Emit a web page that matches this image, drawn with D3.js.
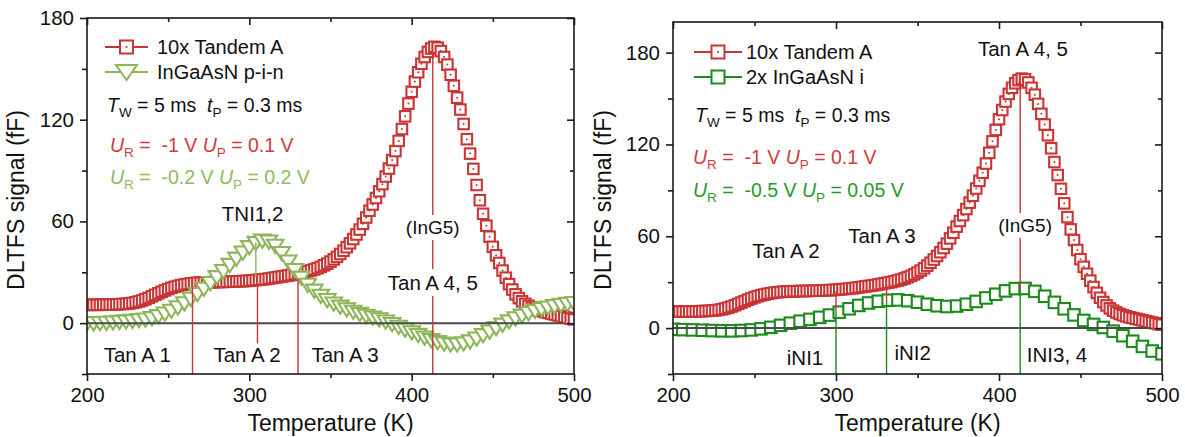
<!DOCTYPE html>
<html><head><meta charset="utf-8">
<script src="https://cdn.jsdelivr.net/npm/d3@7"></script>
<style>
body{margin:0;background:#fff}
svg{display:block}
text{font-family:"Liberation Sans",Arial,Helvetica,sans-serif;white-space:pre}
</style>
</head><body>
<svg id="c" width="1185" height="437"></svg>
<script>
// ---------------- DATA ----------------
const xTickLabels = [200, 300, 400, 500];
const xMinorTicks = [250, 350, 450];
const yTickLabels = [0, 60, 120, 180];
const yMinorTicks = [-30, 30, 90, 150];

// 10x Tandem A (both panels), 2 K steps
const tempTandem = [
 200,202,204,206,208,210,212,214,216,218,
 220,222,224,226,228,230,232,234,236,238,
 240,242,244,246,248,250,252,254,256,258,
 260,262,264,266,268,270,272,274,276,278,
 280,282,284,286,288,290,292,294,296,298,
 300,302,304,306,308,310,312,314,316,318,
 320,322,324,326,328,330,332,334,336,338,
 340,342,344,346,348,350,352,354,356,358,
 360,362,364,366,368,370,372,374,376,378,
 380,382,384,386,388,390,392,394,396,398,
 400,402,404,406,408,410,412,414,416,418,
 420,422,424,426,428,430,432,434,436,438,
 440,442,444,446,448,450,452,454,456,458,
 460,462,464,466,468,470,472,474,476,478,
 480,482,484,486,488,490,492,494,496,498,
 500];
const tandemA = [
 10.8,10.8,10.8,10.8,10.8,10.9,10.9,11.0,11.0,11.1,
 11.2,11.3,11.4,11.6,11.9,12.3,12.8,13.4,14.1,14.9,
 15.8,16.7,17.6,18.5,19.3,20.1,20.8,21.4,21.9,22.4,
 22.8,23.1,23.4,23.6,23.8,23.9,24.0,24.1,24.1,24.2,
 24.2,24.3,24.3,24.4,24.5,24.5,24.6,24.7,24.8,24.9,
 25.0,25.2,25.4,25.6,25.8,26.0,26.3,26.6,26.9,27.2,
 27.5,27.8,28.1,28.5,28.9,29.3,29.7,30.1,30.6,31.1,
 31.7,32.4,33.2,34.1,35.1,36.3,37.6,39.1,40.8,42.7,
 44.8,47.1,49.6,52.3,55.2,58.6,62.3,66.3,70.0,73.8,
 77.8,82.0,86.5,91.2,96.2,101.5,107.5,114.5,122.0,129.5,
 136.5,142.5,148.0,153.0,157.0,160.0,162.0,163.0,162.5,160.5,
 157.0,152.5,146.5,140.0,133.0,126.0,117.5,108.5,100.0,91.0,
 81.5,72.5,64.5,57.5,51.0,45.0,40.0,35.5,31.0,26.8,
 23.0,19.8,17.0,14.8,12.9,11.4,10.2,9.2,8.4,7.7,
 7.1,6.6,6.1,5.6,5.1,4.6,4.1,3.6,3.1,2.6,
 2.2];

// InGaAsN p-i-n (left panel), 4 K steps
const tempPin = [
 200,204,208,212,216,220,224,228,232,236,
 240,244,248,252,256,260,264,268,272,276,
 280,284,288,292,296,300,304,308,312,316,
 320,324,328,332,336,340,344,348,352,356,
 360,364,368,372,376,380,384,388,392,396,
 400,404,408,412,416,420,424,428,432,436,
 440,444,448,452,456,460,464,468,472,476,
 480,484,488,492,496,500];
const ingaasnPin = [
 -0.5,-0.4,-0.3,-0.1,0.1,0.4,0.7,1.0,1.4,1.8,
 2.6,3.8,5.3,7.0,9.0,11.4,14.0,16.8,20.0,23.3,
 26.8,30.4,34.0,37.7,41.3,44.5,47.0,48.3,47.8,45.3,
 41.0,36.0,31.0,26.5,22.3,18.8,15.8,13.3,11.2,9.4,
 7.8,6.4,5.1,4.0,3.0,1.9,0.6,-0.9,-2.5,-4.1,
 -5.7,-7.3,-8.9,-10.3,-11.5,-12.4,-12.9,-12.9,-12.3,-11.1,
 -9.4,-7.4,-5.3,-3.2,-1.2,0.7,2.5,4.1,5.6,6.9,
 8.0,8.9,9.7,10.4,11.0,11.5];

// 2x InGaAsN i (right panel), 6 K steps
const tempI = [
 200,206,212,218,224,230,236,242,248,254,
 260,266,272,278,284,290,296,302,308,314,
 320,326,332,338,344,350,356,362,368,374,
 380,386,392,398,404,410,416,422,428,434,
 440,446,452,458,464,470,476,482,488,494,
 500];
const ingaasnI = [
 -0.8,-1.0,-1.2,-1.4,-1.6,-1.8,-1.8,-1.6,-1.2,-0.5,
 0.5,1.8,3.2,4.5,5.7,7.0,8.5,10.4,12.6,14.8,
 16.4,17.5,18.2,18.4,17.9,16.9,15.6,14.6,14.1,14.4,
 15.6,17.4,19.7,22.1,24.3,25.8,25.9,24.0,20.8,16.8,
 12.6,8.6,5.0,2.4,0.4,-2.0,-5.0,-8.6,-12.0,-15.0,
 -16.8];

// zero reference line span (K)
const zeroLineSpan = [200, 493];

// annotation lines: temperature, from value, to value, series colour key
const leftMarkerLines = [
 {T: 265, v0: -30, v1: 24, c: "red"},
 {T: 304, v0: 27, v1: 47.5, c: "lgreen"},
 {T: 305, v0: -12, v1: 25, c: "red"},
 {T: 330, v0: -30, v1: 26, c: "red"},
 {T: 413, v0: -30, v1: 160, c: "red"}
];
const rightMarkerLines = [
 {T: 300, v0: 11, v1: 24, c: "red"},
 {T: 300, v0: -30, v1: 11, c: "dgreen"},
 {T: 331, v0: 18.5, v1: 28, c: "red"},
 {T: 331, v0: -30, v1: 18.5, c: "dgreen"},
 {T: 413, v0: 26, v1: 161, c: "red"},
 {T: 413, v0: -30, v1: 26, c: "dgreen"}
];
const leftLabels = ["Tan A 1", "Tan A 2", "Tan A 3", "Tan A 4, 5", "(InG5)", "TNI1,2"];
const rightLabels = ["Tan A 4, 5", "Tan A 2", "Tan A 3", "(InG5)", "iNI1", "iNI2", "INI3, 4"];

// ---------------- STYLE / LAYOUT ----------------
const C = {red: "#c83535", redText: "#d03c3c", lgreen: "#8db55a", lgreenText: "#8fba5e",
           dgreen: "#1c8a1c", dgreenText: "#27992a", axis: "#1a1a1a", zero: "#4a4a4a"};
const svg = d3.select("#c");
const tickFont = 20.5, titleFont = 23, annFont = 20.5;

function drawPanel(p) {
  const x = d3.scaleLinear().domain([200, 500]).range([p.x0, p.x1]);
  const y = d3.scaleLinear().domain(p.ydom).range([p.ybot, p.ytop]);
  const g = svg.append("g");
  const clipId = "clip" + p.id;
  svg.append("clipPath").attr("id", clipId).append("rect")
    .attr("x", p.x0).attr("y", p.ytop).attr("width", p.x1 - p.x0).attr("height", p.ybot - p.ytop);
  const plot = g.append("g").attr("clip-path", `url(#${clipId})`);

  p.series.forEach(s => {
    const pts = s.T.map((t, i) => [t, s.V[i]]);
    const sg = plot.append("g");
    if (s.shape === "sq") {
      const h = s.size / 2;
      const m = sg.selectAll("g").data(pts).join("g")
        .attr("transform", d => `translate(${x(d[0])},${y(d[1])})`);
      m.append("rect").attr("x", -h).attr("y", -h).attr("width", s.size).attr("height", s.size)
        .attr("fill", "#fff").attr("stroke", s.color).attr("stroke-width", 2.1);
      if (s.dot) m.append("circle").attr("r", 1).attr("fill", s.color);
    } else {
      const w = s.size / 2, hh = s.size * 0.4;
      sg.selectAll("path").data(pts).join("path")
        .attr("transform", d => `translate(${x(d[0])},${y(d[1])})`)
        .attr("d", `M${-w},${-hh}L${w},${-hh}L0,${hh}Z`)
        .attr("fill", "#fff").attr("stroke", s.color).attr("stroke-width", 2.1).attr("stroke-linejoin", "miter");
    }
  });

  // zero line
  g.append("line").attr("x1", x(zeroLineSpan[0])).attr("x2", x(zeroLineSpan[1]))
    .attr("y1", y(0)).attr("y2", y(0)).attr("stroke", C.zero).attr("stroke-width", 2);

  // annotation lines
  p.lines.forEach(l => {
    g.append("line").attr("x1", x(l.T)).attr("x2", x(l.T)).attr("y1", y(l.v0)).attr("y2", y(l.v1))
      .attr("stroke", C[l.c]).attr("stroke-width", 1.4);
  });

  // annotation labels
  p.labels.forEach((txt, i) => {
    const pos = p.labelPos[i];
    const t = g.append("text").attr("x", x(pos[0])).attr("y", y(pos[1]))
      .attr("text-anchor", pos[2] || "middle").attr("font-size", pos[3] || annFont).attr("fill", "#111").text(txt);
    if (pos[4]) {
      const b = t.node().getBBox();
      g.insert("rect", () => t.node()).attr("x", b.x - 1).attr("y", b.y - 2)
        .attr("width", b.width + 2).attr("height", b.height + 4).attr("fill", "#fff");
    }
  });

  // frame
  g.append("rect").attr("x", p.x0).attr("y", p.ytop).attr("width", p.x1 - p.x0).attr("height", p.ybot - p.ytop)
    .attr("fill", "none").attr("stroke", C.axis).attr("stroke-width", 1.6);

  function style(sel) {
    sel.select(".domain").remove();
    sel.selectAll("line").attr("stroke", C.axis).attr("stroke-width", 1.6);
    sel.selectAll("text").attr("font-size", tickFont).attr("fill", "#111")
      .attr("font-family", '"Liberation Sans",Arial,sans-serif');
  }
  // bottom
  g.append("g").attr("transform", `translate(0,${p.ybot})`)
    .call(d3.axisBottom(x).tickValues(xTickLabels).tickSize(7).tickPadding(6).tickFormat(d3.format("d"))).call(style);
  g.append("g").attr("transform", `translate(0,${p.ybot})`)
    .call(d3.axisBottom(x).tickValues(xMinorTicks).tickSize(4).tickFormat("")).call(style);
  // top (inward)
  g.append("g").attr("transform", `translate(0,${p.ytop})`)
    .call(d3.axisBottom(x).tickValues(xTickLabels).tickSize(7).tickFormat("")).call(style);
  g.append("g").attr("transform", `translate(0,${p.ytop})`)
    .call(d3.axisBottom(x).tickValues(xMinorTicks).tickSize(4).tickFormat("")).call(style);
  // left
  g.append("g").attr("transform", `translate(${p.x0},0)`)
    .call(d3.axisLeft(y).tickValues(yTickLabels).tickSize(7).tickPadding(6).tickFormat(d3.format("d"))).call(style);
  g.append("g").attr("transform", `translate(${p.x0},0)`)
    .call(d3.axisLeft(y).tickValues(yMinorTicks).tickSize(5).tickFormat("")).call(style);
  // right (inward)
  g.append("g").attr("transform", `translate(${p.x1},0)`)
    .call(d3.axisLeft(y).tickValues(yTickLabels).tickSize(7).tickFormat("")).call(style);
  g.append("g").attr("transform", `translate(${p.x1},0)`)
    .call(d3.axisLeft(y).tickValues(yMinorTicks.filter(v => v > p.ydom[0])).tickSize(4).tickFormat("")).call(style);

  // axis titles
  g.append("text").attr("x", (p.x0 + p.x1) / 2).attr("y", 431).attr("text-anchor", "middle")
    .attr("font-size", titleFont).attr("fill", "#111").text("Temperature (K)");
  g.append("text").attr("transform", `translate(${p.yTitleX},${p.yTitleY}) rotate(-90)`)
    .attr("text-anchor", "middle").attr("font-size", titleFont).attr("fill", "#111").text("DLTFS signal (fF)");

  // legend
  p.legend.forEach((L, i) => {
    const ly = p.legY[i];
    g.append("line").attr("x1", p.legX[0]).attr("x2", p.legX[1]).attr("y1", ly).attr("y2", ly)
      .attr("stroke", L.color).attr("stroke-width", 1.9);
    const cx = (p.legX[0] + p.legX[1]) / 2;
    if (L.shape === "sq") {
      g.append("rect").attr("x", cx - 6.5).attr("y", ly - 6.5).attr("width", 13).attr("height", 13)
        .attr("fill", "#fff").attr("stroke", L.color).attr("stroke-width", 2);
      if (L.dot) g.append("circle").attr("cx", cx).attr("cy", ly).attr("r", 1.1).attr("fill", L.color);
    } else {
      g.append("path").attr("transform", `translate(${cx},${ly})`)
        .attr("d", "M-10.5,-7L10.5,-7L0,8Z").attr("fill", "#fff").attr("stroke", L.color).attr("stroke-width", 2);
    }
    g.append("text").attr("x", p.legX[2]).attr("y", ly + 7).attr("font-size", 20).attr("fill", "#111").text(L.name);
  });

  // info lines
  p.info.forEach(inf => {
    const t = g.append("text").attr("x", inf.x).attr("y", inf.y).attr("font-size", 19.5).attr("fill", inf.fill);
    inf.parts.forEach(pt => {
      const ts = t.append("tspan").text(pt[0]);
      if (pt[1] === "i") ts.attr("font-style", "italic");
      if (pt[1] === "s") ts.attr("font-size", 13.5).attr("dy", 5);
      if (pt[1] === "a") ts.attr("dy", -5);
    });
  });
}

const tw = [["T", "i"], ["W", "s"], [" = 5 ms  ", "a"], ["t", "i"], ["P", "s"], [" = 0.3 ms", "a"]];
function uLine(a, b) { return [["U", "i"], ["R", "s"], [" =  " + a + " ", "a"], ["U", "i"], ["P", "s"], [" = " + b, "a"]]; }

drawPanel({
  id: "L", x0: 87, x1: 574, ytop: 18, ybot: 374, ydom: [-30, 180],
  yTitleX: 24, yTitleY: 200,
  series: [
    {T: tempTandem, V: tandemA, shape: "sq", size: 10.5, color: C.red, dot: true},
    {T: tempPin, V: ingaasnPin, shape: "tri", size: 16.5, color: C.lgreen}
  ],
  lines: leftMarkerLines,
  labels: leftLabels,
  labelPos: [[231, -23], [298.6, -23], [359, -23], [413, 19.5, "middle", annFont, true], [413, 52.6, "middle", 19, true], [302, 60.2]],
  legend: [{name: "10x Tandem A", shape: "sq", dot: true, color: C.red},
           {name: "InGaAsN p-i-n", shape: "tri", color: C.lgreen}],
  legX: [105, 148, 157], legY: [47, 72],
  info: [{x: 107, y: 112, fill: "#111", parts: tw},
         {x: 110, y: 152, fill: C.redText, parts: uLine("-1 V", "0.1 V")},
         {x: 110, y: 184, fill: C.lgreenText, parts: uLine("-0.2 V", "0.2 V")}]
});

drawPanel({
  id: "R", x0: 673, x1: 1162, ytop: 22, ybot: 374, ydom: [-30, 200],
  yTitleX: 611, yTitleY: 200,
  series: [
    {T: tempTandem, V: tandemA, shape: "sq", size: 10.5, color: C.red, dot: true},
    {T: tempI, V: ingaasnI, shape: "sq", size: 11.5, color: C.dgreen, dot: false}
  ],
  lines: rightMarkerLines,
  labels: rightLabels,
  labelPos: [[414.7, 178], [269.3, 46], [328.2, 55.5], [416, 62.8, "middle", 19, true], [281, -24], [347, -21], [435.6, -22]],
  legend: [{name: "10x Tandem A", shape: "sq", dot: true, color: C.red},
           {name: "2x InGaAsN i", shape: "sq", dot: false, color: C.dgreen}],
  legX: [694, 742, 746], legY: [52, 77],
  info: [{x: 695, y: 122, fill: "#111", parts: tw},
         {x: 693, y: 164, fill: C.redText, parts: uLine("-1 V", "0.1 V")},
         {x: 693, y: 197, fill: C.dgreenText, parts: uLine("-0.5 V", "0.05 V")}]
});
</script>
</body></html>
